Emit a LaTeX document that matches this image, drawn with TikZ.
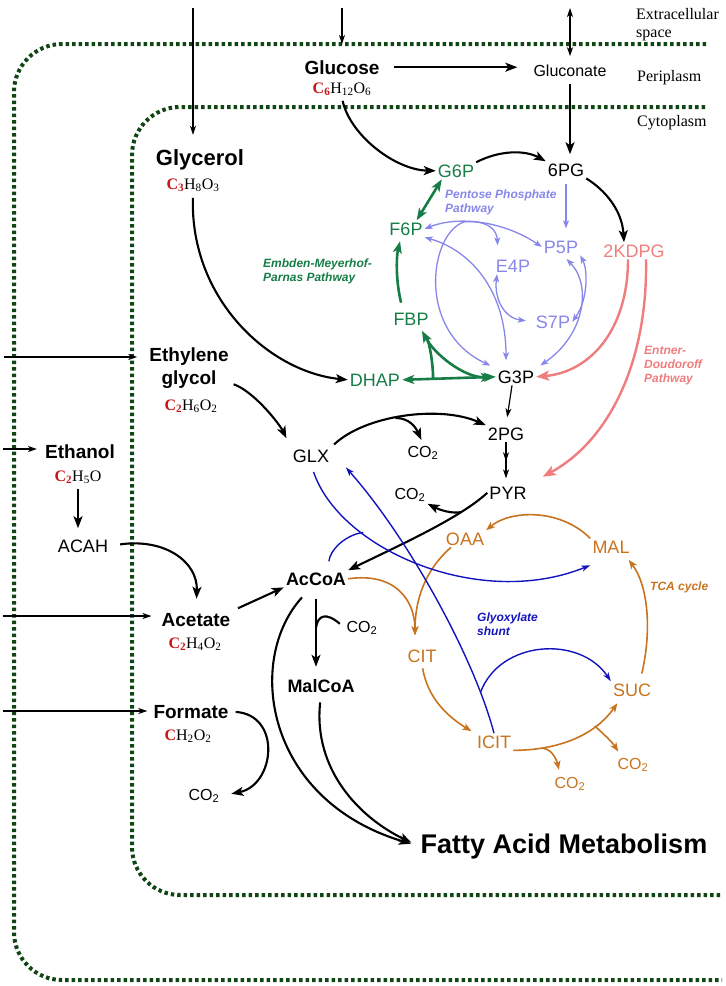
\documentclass[tikz,border=0pt]{standalone}
\usepackage{fontspec}
\setmainfont{Liberation Sans}
\newfontfamily\timesfont{Liberation Serif}
\usetikzlibrary{arrows.meta}

\definecolor{memgreen}{RGB}{15,70,20}
\definecolor{empgreen}{RGB}{22,125,70}
\definecolor{pplav}{RGB}{135,135,235}
\definecolor{edpink}{RGB}{240,125,125}
\definecolor{tcaorange}{RGB}{200,115,30}
\definecolor{glxblue}{RGB}{20,20,190}
\definecolor{cred}{RGB}{200,20,20}

\newcommand{\carb}[1]{\textcolor{cred}{\bfseries C\textsubscript{#1}}}
\newcommand{\cotwo}{CO\textsubscript{2}}

\begin{document}
\begin{tikzpicture}[x=1pt, y=-1pt,
    met/.style={anchor=base, inner sep=2pt, font=\fontsize{18}{20}\selectfont},
    subst/.style={anchor=base, inner sep=2pt, font=\fontsize{19}{23}\selectfont\bfseries},
    co/.style={anchor=base, inner sep=2pt, font=\fontsize{16}{18}\selectfont},
    formula/.style={anchor=base, inner sep=2pt, font=\fontsize{16}{18}\selectfont\timesfont},
    region/.style={anchor=north west, inner sep=0pt, align=left, font=\fontsize{16}{18}\selectfont\timesfont},
    pathlabel/.style={anchor=north west, inner sep=0pt, align=left, font=\fontsize{12}{14}\selectfont\bfseries\itshape},
    membrane/.style={memgreen, line width=4pt, dash pattern=on 3.5pt off 3pt, rounded corners=48pt},
    thinline/.style={line width=1.2pt, >={Stealth[length=9pt,width=6pt,inset=2.5pt]}},
    thickline/.style={line width=2.1pt, >={Stealth[length=12pt,width=9pt,inset=3pt]}},
    empline/.style={empgreen, line width=2.6pt, >={Stealth[length=12pt,width=9pt,inset=3pt]}},
    pppline/.style={pplav, line width=1.3pt, >={Stealth[length=8pt,width=6pt,inset=2pt]}},
    edline/.style={edpink, line width=2.4pt, >={Stealth[length=13pt,width=10pt,inset=3pt]}},
    tcaline/.style={tcaorange, line width=1.6pt, >={Stealth[length=9pt,width=7pt,inset=2.5pt]}},
    glxline/.style={glxblue, line width=1.4pt, >={Stealth[length=9pt,width=6pt,inset=2.5pt]}}
]
\useasboundingbox (0,0) rectangle (726,986);

% membranes
\draw[membrane] (706,44) -- (14,44) -- (14,980) -- (722,980);
\draw[membrane] (705,107) -- (132,107) -- (132,895) -- (722,895);

% compartments
\node[region] (extra) at (636,8) {Extracellular\\space};
\node[region] (peri) at (637,70) {Periplasm};
\node[region] (cyto) at (637,115) {Cytoplasm};

% substrates
\node[subst] (glucose) at (342,74) {Glucose};
\node[formula] (glucoseF) at (342,93) {\carb{6}H\textsubscript{12}O\textsubscript{6}};
\node[met, font=\fontsize{16}{18}\selectfont] (gluconate) at (570,76) {Gluconate};
\node[subst, font=\fontsize{22}{24}\selectfont\bfseries] (glycerol) at (200,165) {Glycerol};
\node[formula] (glycerolF) at (193,189) {\carb{3}H\textsubscript{8}O\textsubscript{3}};
\node[subst, anchor=center, align=center] (ethgly) at (189,368) {Ethylene\\glycol};
\node[formula] (ethglyF) at (191,410) {\carb{2}H\textsubscript{6}O\textsubscript{2}};
\node[subst] (ethanol) at (80,458) {Ethanol};
\node[formula] (ethanolF) at (78,481) {\carb{2}H\textsubscript{5}O};
\node[met] (acah) at (83,552) {ACAH};
\node[subst] (acetate) at (196,626) {Acetate};
\node[formula] (acetateF) at (195,648) {\carb{2}H\textsubscript{4}O\textsubscript{2}};
\node[subst] (formate) at (191,718) {Formate};
\node[formula] (formateF) at (188,740) {\textcolor{cred}{\bfseries C}H\textsubscript{2}O\textsubscript{2}};
\node[co] (co2form) at (204,800) {\cotwo};

% glycolysis, PPP, ED
\node[met, text=empgreen] (g6p) at (456,177) {G6P};
\node[met] (pg6) at (566,176) {6PG};
\node[met, text=empgreen] (f6p) at (406,235) {F6P};
\node[met, text=empgreen] (fbp) at (411,325) {FBP};
\node[met, text=empgreen] (dhap) at (375,386) {DHAP};
\node[met] (g3p) at (516,383) {G3P};
\node[met, text=pplav] (p5p) at (561,253) {P5P};
\node[met, text=pplav] (e4p) at (513,272) {E4P};
\node[met, text=pplav] (s7p) at (553,328) {S7P};
\node[met, text=edpink] (kdpg) at (634,257) {2KDPG};
\node[met] (pg2) at (506,440) {2PG};
\node[met] (pyr) at (508,499) {PYR};
\node[met] (glx) at (311,462) {GLX};
\node[co] (co2glx) at (423,457) {\cotwo};
\node[co] (co2pyr) at (410,499) {\cotwo};
\node[subst, font=\fontsize{18}{20}\selectfont\bfseries] (accoa) at (316,585) {AcCoA};
\node[co] (co2mal) at (362,632) {\cotwo};
\node[subst, font=\fontsize{18}{20}\selectfont\bfseries] (malcoa) at (321,692) {MalCoA};
\node[subst, font=\fontsize{27}{30}\selectfont\bfseries] (fam) at (564,853) {Fatty Acid Metabolism};

% TCA
\node[met, text=tcaorange] (oaa) at (465,545) {OAA};
\node[met, text=tcaorange] (mal) at (611,553) {MAL};
\node[met, text=tcaorange] (cit) at (422,662) {CIT};
\node[met, text=tcaorange] (icit) at (494,748) {ICIT};
\node[met, text=tcaorange] (suc) at (632,696) {SUC};
\node[co, text=tcaorange] (co2a) at (570,788) {\cotwo};
\node[co, text=tcaorange] (co2b) at (633,769) {\cotwo};

% pathway labels
\node[pathlabel, text=empgreen] (emplabel) at (263,259) {Embden-Meyerhof-\\Parnas Pathway};
\node[pathlabel, text=pplav] (ppplabel) at (445,190) {Pentose Phosphate\\Pathway};
\node[pathlabel, text=edpink] (edlabel) at (644,346) {Entner-\\Doudoroff\\Pathway};
\node[pathlabel, text=tcaorange, anchor=base west] (tcalabel) at (650,590) {TCA cycle};
\node[pathlabel, text=glxblue] (glxlabel) at (477,613) {Glyoxylate\\shunt};

% uptake
\coordinate (inGly) at (193,8);
\coordinate (inGlc) at (342,8);
\coordinate (exGlcn) at (570,8);
\coordinate (inEG) at (4,357);
\coordinate (inEt) at (3,449);
\coordinate (inAc) at (3,616);
\coordinate (inFo) at (3,711);
\draw[thinline, ->, shorten >=12pt] (inGly) -- (inGly |- glycerol.north);
\draw[thinline, ->, shorten >=14pt] (inGlc) -- (glucose.north);
\draw[thinline, <->, shorten >=6pt] (exGlcn) -- (gluconate.north);
\draw[thinline, ->, shorten >=10pt] (inEG) -- (inEG -| ethgly.west);
\draw[thinline, ->, shorten >=6pt] (inEt) -- (inEt -| ethanol.west);
\draw[thinline, ->, shorten >=8pt] (inAc) -- (inAc -| acetate.west);
\draw[thinline, ->, shorten >=4pt] (inFo) -- (inFo -| formate.west);

% black reactions
\draw[thickline, ->, shorten <=12pt, shorten >=14pt] (glucose.east) -- (glucose.east -| gluconate.west);
\draw[thickline, ->, shorten <=6pt, shorten >=7pt] (gluconate.south) -- (gluconate.south |- pg6.north);
\draw[thickline, ->, shorten <=3pt] (glucoseF.south) .. controls (350,135) and (395,170) .. (g6p.west);
\draw[thickline, ->] (g6p.north east) .. controls (500,150) and (525,150) .. (pg6.north west);
\draw[thickline, ->] (pg6.south east) .. controls (605,190) and (622,210) .. ([xshift=-10pt]kdpg.north);
\draw[thickline, ->, shorten <=4pt] (glycerolF.south) .. controls (190,300) and (270,372) .. (dhap.west);
\draw[thickline, ->, shorten <=3pt, shorten >=10pt] (ethgly.-20) .. controls (255,392) and (280,425) .. (glx.north west);
\draw[thickline, ->, shorten <=3pt, shorten >=9pt] (ethanolF.south) -- (ethanolF.south |- acah.north);
\draw[thickline, ->, shorten <=10pt, shorten >=12pt] (acah.east) .. controls (165,538) and (198,562) .. (acetate.north);
\draw[thickline, ->, shorten <=6pt] (acetate.north east) -- (accoa.south west);
\draw[thickline, ->, shorten <=5pt, shorten >=10pt] (formate.east) .. controls (282,715) and (275,785) .. (co2form.east);
\draw[thickline, ->, shorten <=4pt] (glx.north east) .. controls (365,415) and (440,405) .. (pg2.north west)
    coordinate[pos=0.45] (glxbr);
\draw[thickline, ->, shorten >=4pt] (glxbr) .. controls (410,418) and (416,428) .. (co2glx.north);
\draw[thickline, ->] (pyr.west) .. controls (460,518) and (400,545) .. (accoa.north east)
    coordinate[pos=0.25] (pyrbr);
\draw[thickline, ->] (pyrbr) .. controls (452,514) and (440,510) .. (co2pyr.south east);
\draw[thickline, ->, shorten <=12pt, shorten >=10pt] (accoa.south) -- (accoa.south |- malcoa.north)
    coordinate[pos=0.45] (mcbr);
\draw[thickline, shorten >=6pt] (mcbr) .. controls (318,615) and (326,612) .. (co2mal.west);
\draw[thickline, ->, shorten >=8pt] ([xshift=-14pt,yshift=-10pt]accoa.south) .. controls (245,660) and (265,800) .. (fam.west);
\draw[thickline, ->, shorten <=8pt, shorten >=8pt] (malcoa.south) .. controls (313,770) and (360,818) .. (fam.west);
\draw[thinline, ->, shorten >=8pt] ([xshift=-4pt]g3p.south) -- (pg2.north);
\draw[thinline, ->, shorten >=6pt] (pg2.south) -- (pg2.south |- pyr.north) coordinate[pos=0.45] (pgmid);
\draw[thinline, ->] (pg2.south) -- (pgmid);

% Embden-Meyerhof-Parnas
\draw[empline, <->] ([xshift=6pt]g6p.south west) -- ([xshift=-8pt]f6p.north east);
\draw[empline, ->, shorten <=8pt, shorten >=4pt] ([xshift=-8pt]fbp.north) .. controls (396,282) and (396,258) .. ([xshift=-5pt]f6p.south);
\draw[empline, <->] (dhap.east) -- (g3p.west) coordinate[pos=0.33] (dhapbr);
\draw[empline, <->, shorten <=4pt, shorten >=3pt] ([xshift=9pt]fbp.south) .. controls (435,355) and (465,378) .. (g3p.west)
    coordinate[pos=0.15] (fbpbr);
\draw[empline] (dhapbr) .. controls (433,365) and (431,352) .. (fbpbr);

% pentose phosphate
\draw[pppline, ->, shorten <=6pt, shorten >=10pt] (pg6.south) -- (pg6.south |- p5p.north);
\draw[pppline, <->] (f6p.east) .. controls (460,215) and (505,222) .. (p5p.west)
    coordinate[pos=0.35] (pptop);
\draw[pppline, ->, shorten >=12pt] (pptop) .. controls (488,220) and (497,230) .. ([xshift=-15pt]e4p.north);
\draw[pppline, ->, shorten >=6pt] (pptop) .. controls (430,232) and (415,330) .. (g3p.north west);
\draw[pppline, <->, shorten >=8pt] (f6p.south east) .. controls (470,250) and (506,290) .. ([xshift=-10pt]g3p.north);
\draw[pppline, <->, shorten >=8pt] ([xshift=-16pt]e4p.south) .. controls (494,300) and (505,318) .. (s7p.west);
\draw[pppline, <->] (p5p.south east) .. controls (588,270) and (588,300) .. (s7p.east);
\draw[pppline, <->, shorten <=5pt, shorten >=5pt] ([xshift=2pt]p5p.south) .. controls (592,285) and (585,335) .. (g3p.north east);

% Entner-Doudoroff
\draw[edline, ->] ([xshift=-6pt]kdpg.south) .. controls (628,330) and (590,372) .. (g3p.east);
\draw[edline, ->, shorten >=16pt] ([xshift=12pt]kdpg.south) .. controls (648,360) and (610,440) .. (pyr.north east);

% TCA cycle
\draw[tcaline, ->] (mal.north west) .. controls (560,508) and (510,510) .. (oaa.north east);
\draw[tcaline, ->, shorten >=12pt] ([xshift=-14pt]oaa.south) .. controls (425,570) and (415,600) .. ([xshift=-7pt]cit.north);
\draw[tcaline, ->, shorten >=12pt] (accoa.east) .. controls (395,572) and (415,600) .. ([xshift=-7pt]cit.north);
\draw[tcaline, ->, shorten <=4pt, shorten >=4pt] (cit.south) .. controls (428,700) and (450,718) .. (icit.north west);
\draw[tcaline, ->, shorten >=6pt] (icit.south east) .. controls (570,750) and (600,728) .. ([xshift=10pt]suc.south west)
    coordinate[pos=0.18] (icitbr) coordinate[pos=0.65] (sucbr);
\draw[tcaline, ->, shorten >=5pt] (icitbr) .. controls (550,748) and (556,757) .. ([xshift=-10pt]co2a.north);
\draw[tcaline, ->, shorten >=5pt] (sucbr) .. controls (605,735) and (612,742) .. ([xshift=-12pt]co2b.north);
\draw[tcaline, ->, shorten <=8pt, shorten >=6pt] ([xshift=8pt]suc.north) .. controls (652,630) and (648,585) .. ([xshift=14pt]mal.south);

% glyoxylate shunt
\draw[glxline, ->, shorten <=8pt] (glx.south) .. controls (340,550) and (480,610) .. ([yshift=-10pt]mal.south west)
    coordinate[pos=0.3] (gsj);
\draw[glxline, shorten <=9pt] ([xshift=12pt]accoa.north) .. controls (330,550) and (345,535) .. (gsj);
\draw[glxline, ->, shorten >=4pt] (icit.north) .. controls (475,660) and (410,540) .. ([xshift=12pt]glx.south east)
    coordinate[pos=0.17] (glxsuc);
\draw[glxline, ->] (glxsuc) .. controls (500,640) and (580,635) .. (suc.north west);

\end{tikzpicture}
\end{document}
